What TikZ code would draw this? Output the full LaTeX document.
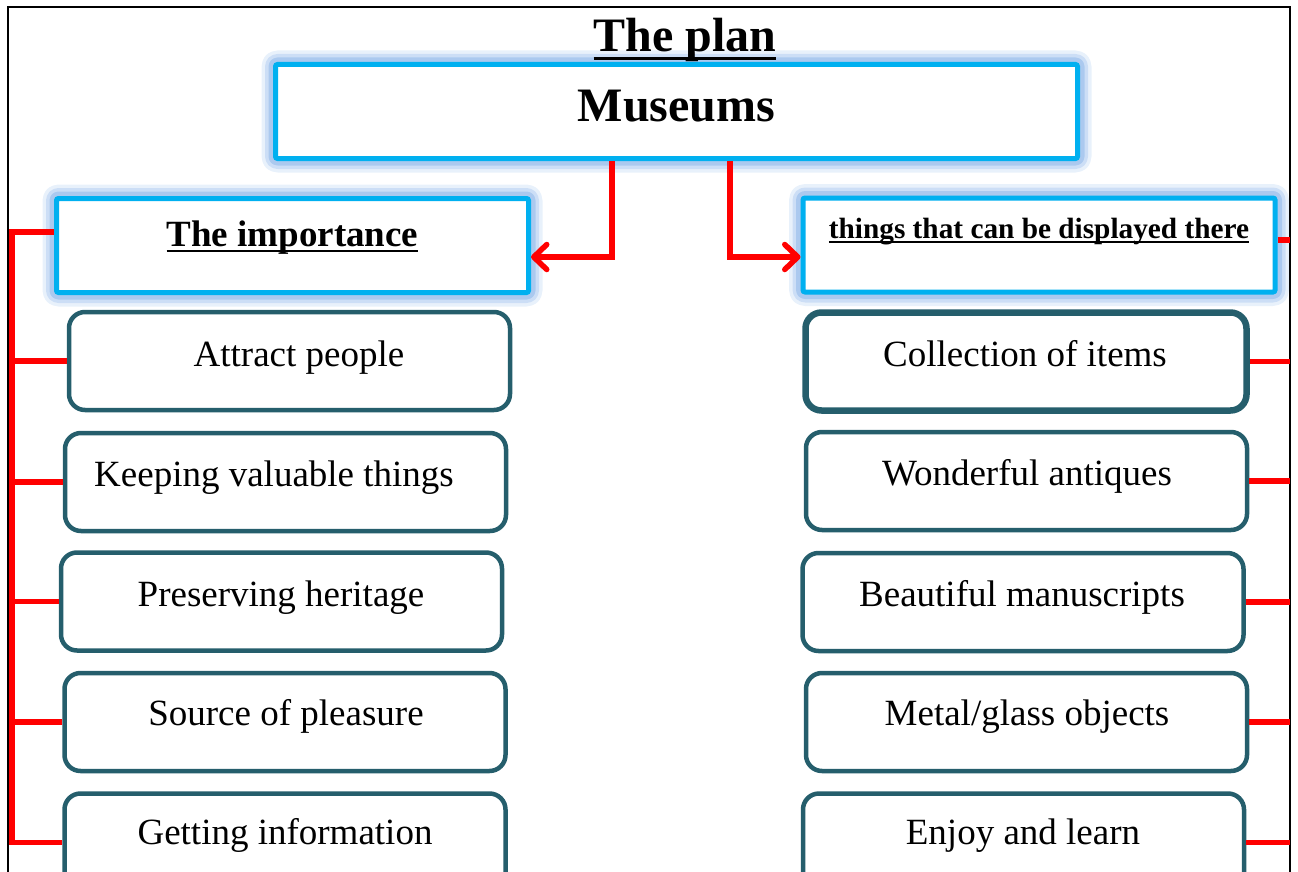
\documentclass[tikz,border=0pt]{standalone}
\usepackage{fontspec}
\setmainfont{Liberation Serif}
\usetikzlibrary{arrows.meta}
\definecolor{cyanb}{RGB}{0,176,240}
\definecolor{glowc}{RGB}{130,175,232}
\definecolor{tealb}{RGB}{37,94,108}
\definecolor{redl}{RGB}{255,0,0}
\newcommand{\ulbf}[1]{\setbox0\hbox{\bfseries #1}\rlap{\rule[-0.17em]{\wd0}{0.075em}}\box0}
\tikzset{
  glowbox/.style={draw=cyanb, line width=5pt, fill=white, inner sep=0pt, rounded corners=2pt,
    preaction={draw=glowc, line width=28pt, opacity=0.18, line join=round},
    preaction={draw=glowc, line width=21pt, opacity=0.28, line join=round},
    preaction={draw=glowc, line width=14pt, opacity=0.45, line join=round}},
  item/.style={draw=tealb, line width=4.5pt, rounded corners=16pt, fill=white, inner sep=0pt,
    minimum width=441pt, minimum height=98pt},
  itemtext/.style={anchor=base, inner sep=0pt, font=\fontsize{37pt}{44pt}\selectfont},
  conn/.style={draw=redl, line width=5.5pt},
  arr/.style={conn, -{Straight Barb[length=13pt, width=25pt, line cap=round, line join=round]}, line join=miter}
}
\begin{document}
\begin{tikzpicture}[x=1pt, y=-1pt]
\useasboundingbox (0,0) rectangle (1298,872);
\clip (0,0) rectangle (1298,872);
% page frame
\draw[black, line width=2pt] (8,890) -- (8,7) -- (1290,7) -- (1290,890);

% top boxes
\node[glowbox, minimum width=802pt, minimum height=94pt] (mus) at (676.5,111.5) {};
\node[glowbox, minimum width=472pt, minimum height=94pt] (imp) at (292.5,245.5) {};
\node[glowbox, minimum width=472pt, minimum height=94pt] (thg) at (1039,245) {};

\node[anchor=base, inner sep=0pt, font=\fontsize{48pt}{58pt}\selectfont\bfseries] (titl) at (685,52) {\ulbf{The plan}};
\node[anchor=base, inner sep=0pt, font=\fontsize{48pt}{58pt}\selectfont\bfseries] (must) at (676.5,122) {Museums};
\node[anchor=base, inner sep=0pt, font=\fontsize{37pt}{44pt}\selectfont] (impt) at (292.5,246) {\ulbf{The importance}};
\node[anchor=base, inner sep=0pt, font=\fontsize{29.3pt}{35pt}\selectfont] (thgt) at (1039,238) {\ulbf{things that can be displayed there}};

% left items
\node[item] (l1) at (289.5,361) {};
\node[item] (l2) at (285.5,482) {};
\node[item] (l3) at (281.5,601.5) {};
\node[item] (l4) at (285,722) {};
\node[item] (l5) at (285,842.5) {};
\node[itemtext] (l1t) at (299,366) {Attract people};
\node[itemtext] (l2t) at (274,486) {Keeping valuable things};
\node[itemtext] (l3t) at (281,606) {Preserving heritage};
\node[itemtext] (l4t) at (286,725) {Source of pleasure};
\node[itemtext] (l5t) at (285,844) {Getting information};

% right items
\node[item, line width=6.5pt] (r1) at (1026,361.5) {};
\node[item] (r2) at (1026.5,481) {};
\node[item] (r3) at (1023,602) {};
\node[item] (r4) at (1026.5,722) {};
\node[item] (r5) at (1023.5,842.5) {};
\node[itemtext] (r1t) at (1025,366) {Collection of items};
\node[itemtext] (r2t) at (1027,485) {Wonderful antiques};
\node[itemtext] (r3t) at (1022,606) {Beautiful manuscripts};
\node[itemtext] (r4t) at (1027,725) {Metal/glass objects};
\node[itemtext] (r5t) at (1023,844) {Enjoy and learn};

% arrows from Museums
\coordinate (mL) at ([xshift=-64.5pt]mus.south);
\coordinate (mR) at ([xshift=53.5pt]mus.south);
\draw[arr] (mL) |- ([yshift=-11.5pt]imp.east);
\draw[arr] (mR) |- ([yshift=-12pt]thg.west);

% left bus
\coordinate (lbus) at (12,232);
\draw[conn] ([yshift=13.5pt]imp.west) -- (lbus) |- (l5.west);
\foreach \n in {l1,l2,l3,l4} { \draw[conn] (\n.west) -- (\n.west -| lbus); }

% right stubs
\coordinate (rbus) at (1290,0);
\draw[conn] ([yshift=5pt]thg.east) -- ([yshift=5pt]thg.east -| rbus);
\foreach \n in {r1,r2,r3,r4,r5} { \draw[conn] (\n.east) -- (\n.east -| rbus); }
\end{tikzpicture}
\end{document}
